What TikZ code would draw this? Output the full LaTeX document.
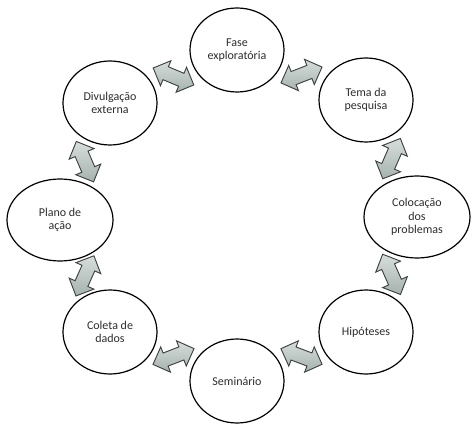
\documentclass[tikz,border=0pt]{standalone}
\usepackage{fontspec}
\setmainfont{Carlito}
\usetikzlibrary{shapes.geometric,shapes.arrows}

\definecolor{stagetext}{RGB}{45,45,45}
\definecolor{arrowedge}{RGB}{60,65,65}
\definecolor{arrowlight}{RGB}{215,222,220}
\definecolor{arrowdark}{RGB}{165,178,174}

\tikzset{every picture/.style={line width=0.75pt}}
\tikzset{
	stage/.style={ellipse, draw=black, line width=0.9pt, fill=white,
		minimum width=70.5pt, minimum height=63pt, inner sep=0pt,
		align=center, text=stagetext, font=\fontsize{9}{10}\selectfont},
	wide stage/.style={stage, minimum width=79.5pt, minimum height=61.5pt},
	gap arrow/.style={double arrow, draw=arrowedge, line width=0.7pt,
		top color=arrowlight, bottom color=arrowdark, sloped,
		inner xsep=0pt, inner ysep=4.9pt,
		minimum width=19.5pt, minimum height=33pt,
		double arrow head extend=4.9pt}
}

\begin{document}
\begin{tikzpicture}[x=0.75pt,y=0.75pt,yscale=-1,xscale=1]
	\useasboundingbox (0,0) rectangle (474,434);

	%Shape: Ellipse
	\node [stage] (fase) at (237,50) {Fase\\exploratória};
	%Shape: Ellipse
	\node [stage] (tema) at (366,100) {Tema da\\pesquisa};
	%Shape: Ellipse
	\node [wide stage] (colocacao) at (417,217) {Colocação\\dos\\problemas};
	%Shape: Ellipse
	\node [stage] (hipoteses) at (366,332) {Hipóteses};
	%Shape: Ellipse
	\node [stage] (seminario) at (237,381) {Seminário};
	%Shape: Ellipse
	\node [stage] (coleta) at (110,332) {Coleta de\\dados};
	%Shape: Ellipse
	\node [wide stage] (plano) at (60,220) {Plano de\\ação};
	%Shape: Ellipse
	\node [stage] (divulgacao) at (110,103) {Divulgação\\externa};

	%Shape: Double Arrow
	\path (fase) -- node [gap arrow] {} (tema);
	\path (tema) -- node [gap arrow] {} (colocacao);
	\path (colocacao) -- node [gap arrow] {} (hipoteses);
	\path (hipoteses) -- node [gap arrow] {} (seminario);
	\path (seminario) -- node [gap arrow] {} (coleta);
	\path (coleta) -- node [gap arrow] {} (plano);
	\path (plano) -- node [gap arrow] {} (divulgacao);
	\path (divulgacao) -- node [gap arrow] {} (fase);

\end{tikzpicture}
\end{document}
